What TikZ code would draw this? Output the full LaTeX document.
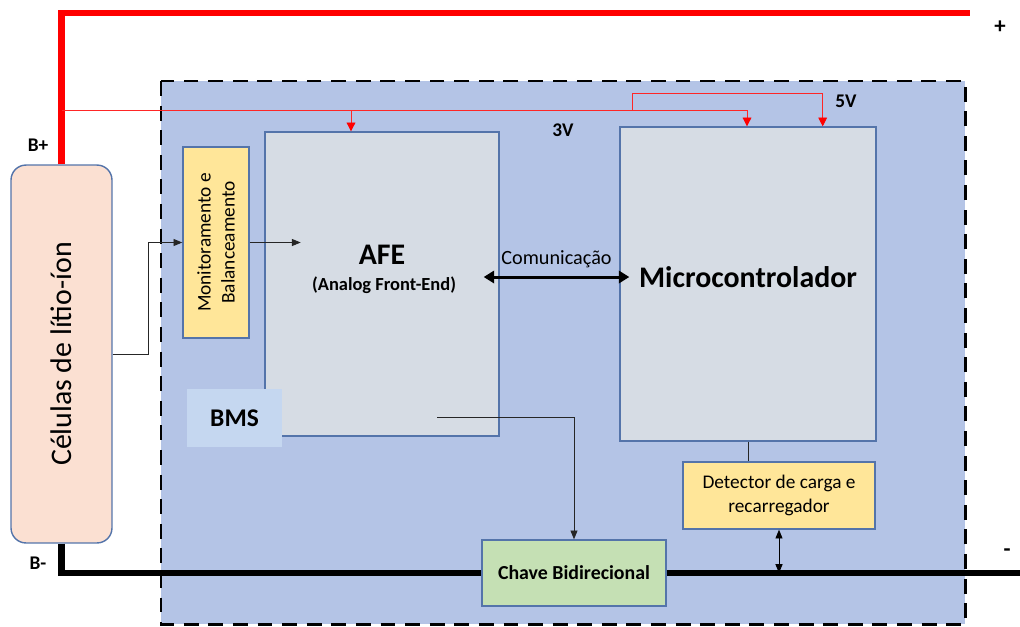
\documentclass[tikz,border=0pt]{standalone}
\usepackage{fontspec}
\setmainfont{Carlito}
\usepackage{tikz}
\usetikzlibrary{arrows.meta}

\definecolor{panelblue}{RGB}{180,196,230}
\definecolor{boxgrey}{RGB}{214,220,228}
\definecolor{boxline}{RGB}{84,116,170}
\definecolor{boxyellow}{RGB}{255,230,153}
\definecolor{cellpeach}{RGB}{251,224,210}
\definecolor{boxgreen}{RGB}{197,224,180}
\definecolor{bmsblue}{RGB}{197,215,240}

\begin{document}
\begin{tikzpicture}[x=0.02cm,y=-0.02cm,
  blk/.style={draw=boxline,line width=0.8pt,inner sep=0pt,align=center},
  pwr/.style={line width=3.9pt,color=red},
  gnd/.style={line width=3.9pt,color=black},
  vcc/.style={line width=0.5pt,color=red!85,-{Triangle[width=5pt,length=5pt,color=red]}},
  sig/.style={line width=0.5pt,color=black!85,-{Triangle[width=4pt,length=5pt]}},
  bus/.style={line width=1.7pt,{Triangle[width=7pt,length=6pt]}-{Triangle[width=7pt,length=6pt]}},
  lbl/.style={font=\bfseries\fontsize{11}{13}\selectfont}]
\useasboundingbox (0,0) rectangle (1020,626);
% area do BMS
\draw[fill=panelblue,dash pattern=on 8.5pt off 5.5pt,line width=1.7pt] (161,81) rectangle (965,624);

\node[blk,fill=cellpeach,rounded corners=0.3cm,minimum width=2.02cm,minimum height=7.56cm] (cells) at (61.5,354) {};
\node[rotate=90,font=\fontsize{17}{20}\selectfont] (cellstxt) at (cells.center) {Células de lítio-íon};
\node[blk,fill=boxyellow,minimum width=1.32cm,minimum height=3.82cm] (mon) at (216,242.5) {};
\node[rotate=90,align=center,font=\fontsize{11}{13.6}\selectfont] (montxt) at (mon.center) {Monitoramento e\\Balanceamento};
\node[blk,fill=boxgrey,minimum width=4.68cm,minimum height=6.08cm] (afe) at (382,284) {};
\node[font=\bfseries\fontsize{17}{20}\selectfont] (afetxt) at (382,255) {AFE};
\node[font=\bfseries\fontsize{10.5}{12}\selectfont] (afesub) at (384,285) {(Analog Front-End)};
\node[fill=bmsblue,minimum width=1.9cm,minimum height=1.16cm,font=\bfseries\fontsize{14.5}{17}\selectfont] (bms) at (234.5,418) {BMS};
\node[blk,fill=boxgrey,minimum width=5.12cm,minimum height=6.28cm] (mcu) at (748,284) {};
\node[font=\bfseries\fontsize{17}{20}\selectfont] (mcutxt) at (748,277) {Microcontrolador};
\node[blk,fill=boxyellow,minimum width=3.84cm,minimum height=1.34cm,font=\fontsize{11}{13.6}\selectfont] (det) at (779,495.5) {Detector de carga e\\recarregador};
\node[blk,fill=boxgreen,minimum width=3.68cm,minimum height=1.32cm,font=\bfseries\fontsize{11.3}{13}\selectfont] (sw) at (574,573) {Chave Bidirecional};

% alimentacao
\coordinate (plus) at (970,13);
\coordinate (minus) at (1020,573);
\coordinate (tap) at (61.5,110);
\coordinate (tap3) at (351,110);
\coordinate (tap5) at (632,110);
\draw[pwr] (cells.north) |- (plus);
\draw[vcc] (tap) -| ([xshift=-0.02cm]mcu.north);
\draw[vcc] (tap3) -- (tap3 |- afe.north);
\draw[vcc] (tap5) -- ++(0,-17) -| ([xshift=-1.08cm]mcu.north east);
\draw[gnd] (cells.south) |- (sw.west);
\draw[gnd] (sw.east) -- (minus);

% sinais
\coordinate (afeout) at (437,417);
\draw[sig] (cells.east) -- ++(36,0) |- (mon.west);
\draw[sig] (mon.east) -- ++(51,0);
\draw[sig] (afeout) -| (sw.north);
\draw[line width=0.5pt,black!85] (mcu.south) -- (mcu.south |- det.north);
\draw[line width=0.5pt,{Triangle[width=4pt,length=5pt]}-{Triangle[width=4pt,length=5pt]}] (det.south) -- (det.south |- sw.east);
\draw[bus] ([xshift=-0.32cm,yshift=0.14cm]afe.east) -- node[above=1pt,font=\fontsize{11.5}{14}\selectfont] (comtxt) {Comunicação} ([xshift=0.2cm,yshift=0.14cm]mcu.west);

\node[lbl] (bplus) at (38,145) {B+};
\node[lbl] (bminus) at (38,563) {B-};
\node[lbl] (v3) at (563,130) {3V};
\node[lbl] (v5) at (846,101) {5V};
\node[font=\bfseries\fontsize{13}{15}\selectfont] (plustxt) at (1000,27) {+};
\node[font=\bfseries\fontsize{13}{15}\selectfont] (minustxt) at (1007,553) {-};
\end{tikzpicture}
\end{document}
